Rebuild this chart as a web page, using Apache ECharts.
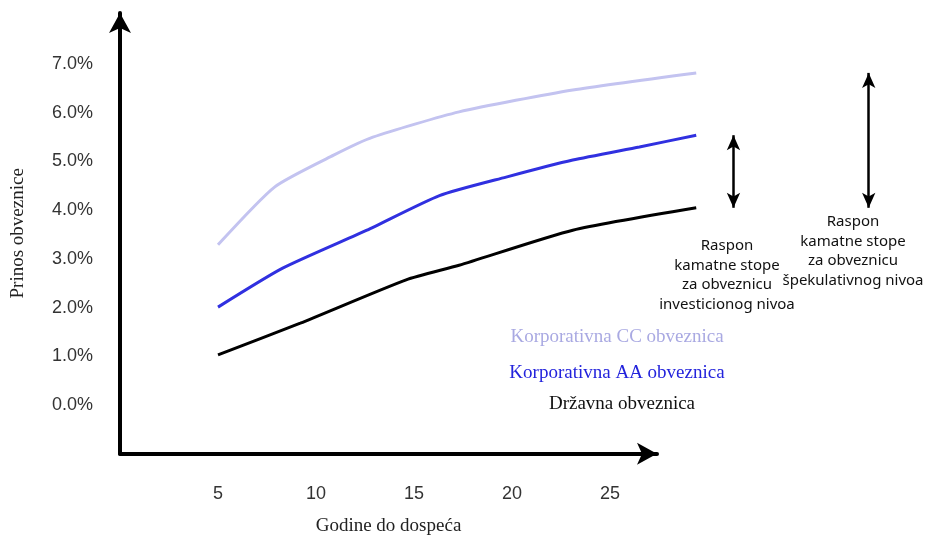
<!DOCTYPE html>
<html>
<head>
<meta charset="utf-8">
<script src="https://cdn.jsdelivr.net/npm/echarts@6/dist/echarts.min.js"></script>
<style>html,body{margin:0;padding:0;background:#fff;}#c{width:927px;height:535px;}</style>
</head>
<body>
<div id="c"></div>
<script>
// ---- data ----
var ccYears = [5, 7.9, 10.9, 12.9, 17.3, 23.1, 29.4];
var ccYields = [3.29, 4.48, 5.13, 5.50, 6.02, 6.47, 6.82];
var aaYears = [5, 8.3, 12.6, 16.3, 19.7, 23.1, 26.5, 29.4];
var aaYields = [2.01, 2.81, 3.59, 4.30, 4.68, 5.03, 5.30, 5.54];
var govYears = [5, 9.2, 14.6, 17.3, 23.1, 29.4];
var govYields = [1.03, 1.68, 2.57, 2.87, 3.59, 4.05];
var xTickLabels = [5, 10, 15, 20, 25];
var yTickLabels = [0, 1, 2, 3, 4, 5, 6, 7];
var seriesNames = ['Korporativna CC obveznica', 'Korporativna AA obveznica', 'Državna obveznica'];
var spreadArrowX = [31.3, 38.2];
var annot1 = ['Raspon', 'kamatne stope', 'za obveznicu', 'investicionog nivoa'];
var annot2 = ['Raspon', 'kamatne stope', 'za obveznicu', 'špekulativnog nivoa'];
var xTitle = 'Godine do dospeća';
var yTitle = 'Prinos obveznice';

function pairs(xs, ys) { return xs.map(function (x, i) { return [x, ys[i]]; }); }
function last(a) { return a[a.length - 1]; }

var chart = echarts.init(document.getElementById('c'));
var serif = '"Liberation Serif", "Times New Roman", serif';
var sans = '"Liberation Sans", Arial, sans-serif';
var annFont = '"Noto Sans", "Open Sans", sans-serif';

var option = {
  backgroundColor: '#ffffff',
  animation: false,
  grid: [
    { left: 120, right: 270, top: 13, bottom: 81.3, outerBoundsMode: 'none', containLabel: false },
    { left: 120, right: 3.4, top: 13, bottom: 81.3, outerBoundsMode: 'none', containLabel: false }
  ],
  xAxis: [
    {
      type: 'value', gridIndex: 0, min: 0, max: 27.4, interval: 5,
      name: xTitle, nameLocation: 'middle', nameGap: 63,
      nameTextStyle: { fontFamily: serif, fontSize: 19, color: '#222' },
      axisLine: { show: true, onZero: false, lineStyle: { color: '#000', width: 4 }, symbol: ['none', 'arrow'], symbolSize: [16.5, 20], symbolOffset: [0, 0] },
      axisTick: { show: false },
      splitLine: { show: false },
      axisLabel: {
        margin: 31, fontFamily: sans, fontSize: 18, color: '#333',
        formatter: function (v) { return xTickLabels.indexOf(v) >= 0 ? String(v) : ''; }
      }
    },
    { type: 'value', gridIndex: 1, min: 0, max: 41, show: false }
  ],
  yAxis: [
    {
      type: 'value', gridIndex: 0, min: -1, max: 8.05, interval: 1,
      name: yTitle, nameLocation: 'middle', nameGap: 92,
      nameTextStyle: { fontFamily: serif, fontSize: 19, color: '#222' },
      axisLine: { show: true, onZero: false, lineStyle: { color: '#000', width: 4 }, symbol: ['none', 'arrow'], symbolSize: [16.5, 20], symbolOffset: [0, 0] },
      axisTick: { show: false },
      splitLine: { show: false },
      axisLabel: {
        margin: 27, fontFamily: sans, fontSize: 18, color: '#333',
        formatter: function (v) { return yTickLabels.indexOf(v) >= 0 ? v.toFixed(1) + '%' : ''; }
      }
    },
    { type: 'value', gridIndex: 1, min: -1, max: 8.05, show: false }
  ],
  series: [
    {
      name: seriesNames[0], type: 'line', xAxisIndex: 1, yAxisIndex: 1,
      data: pairs(ccYears, ccYields), symbol: 'none', smooth: 0.2,
      lineStyle: { color: '#c3c3f0', width: 3 }
    },
    {
      name: seriesNames[1], type: 'line', xAxisIndex: 1, yAxisIndex: 1,
      data: pairs(aaYears, aaYields), symbol: 'none', smooth: 0.2,
      lineStyle: { color: '#3030e0', width: 3 }
    },
    {
      name: seriesNames[2], type: 'line', xAxisIndex: 1, yAxisIndex: 1,
      data: pairs(govYears, govYields), symbol: 'none', smooth: 0.2,
      lineStyle: { color: '#000', width: 3 },
      markLine: {
        silent: true, animation: false,
        symbol: ['arrow', 'arrow'], symbolSize: [10, 15],
        label: { show: false },
        lineStyle: { color: '#000', width: 2.5, type: 'solid' },
        emphasis: { disabled: true },
        data: [
          [{ coord: [spreadArrowX[0], last(aaYields)] }, { coord: [spreadArrowX[0], last(govYields)] }],
          [{ coord: [spreadArrowX[1], last(ccYields)] }, { coord: [spreadArrowX[1], last(govYields)] }]
        ]
      }
    }
  ],
  graphic: [
    { type: 'text', x: 727, y: 236, style: { text: annot1.join('\n'), font: '15px ' + annFont, fill: '#111', textAlign: 'center', textVerticalAlign: 'top', lineHeight: 19.5 } },
    { type: 'text', x: 853, y: 212, style: { text: annot2.join('\n'), font: '15px ' + annFont, fill: '#111', textAlign: 'center', textVerticalAlign: 'top', lineHeight: 19.5 } },
    { type: 'text', x: 617, y: 337, style: { text: seriesNames[0], font: '19px ' + serif, fill: '#a9a9e2', textAlign: 'center', textVerticalAlign: 'middle' } },
    { type: 'text', x: 617, y: 373, style: { text: seriesNames[1], font: '19px ' + serif, fill: '#2323dc', textAlign: 'center', textVerticalAlign: 'middle' } },
    { type: 'text', x: 622, y: 404, style: { text: seriesNames[2], font: '19px ' + serif, fill: '#111', textAlign: 'center', textVerticalAlign: 'middle' } }
  ]
};
chart.setOption(option);
</script>
</body>
</html>
